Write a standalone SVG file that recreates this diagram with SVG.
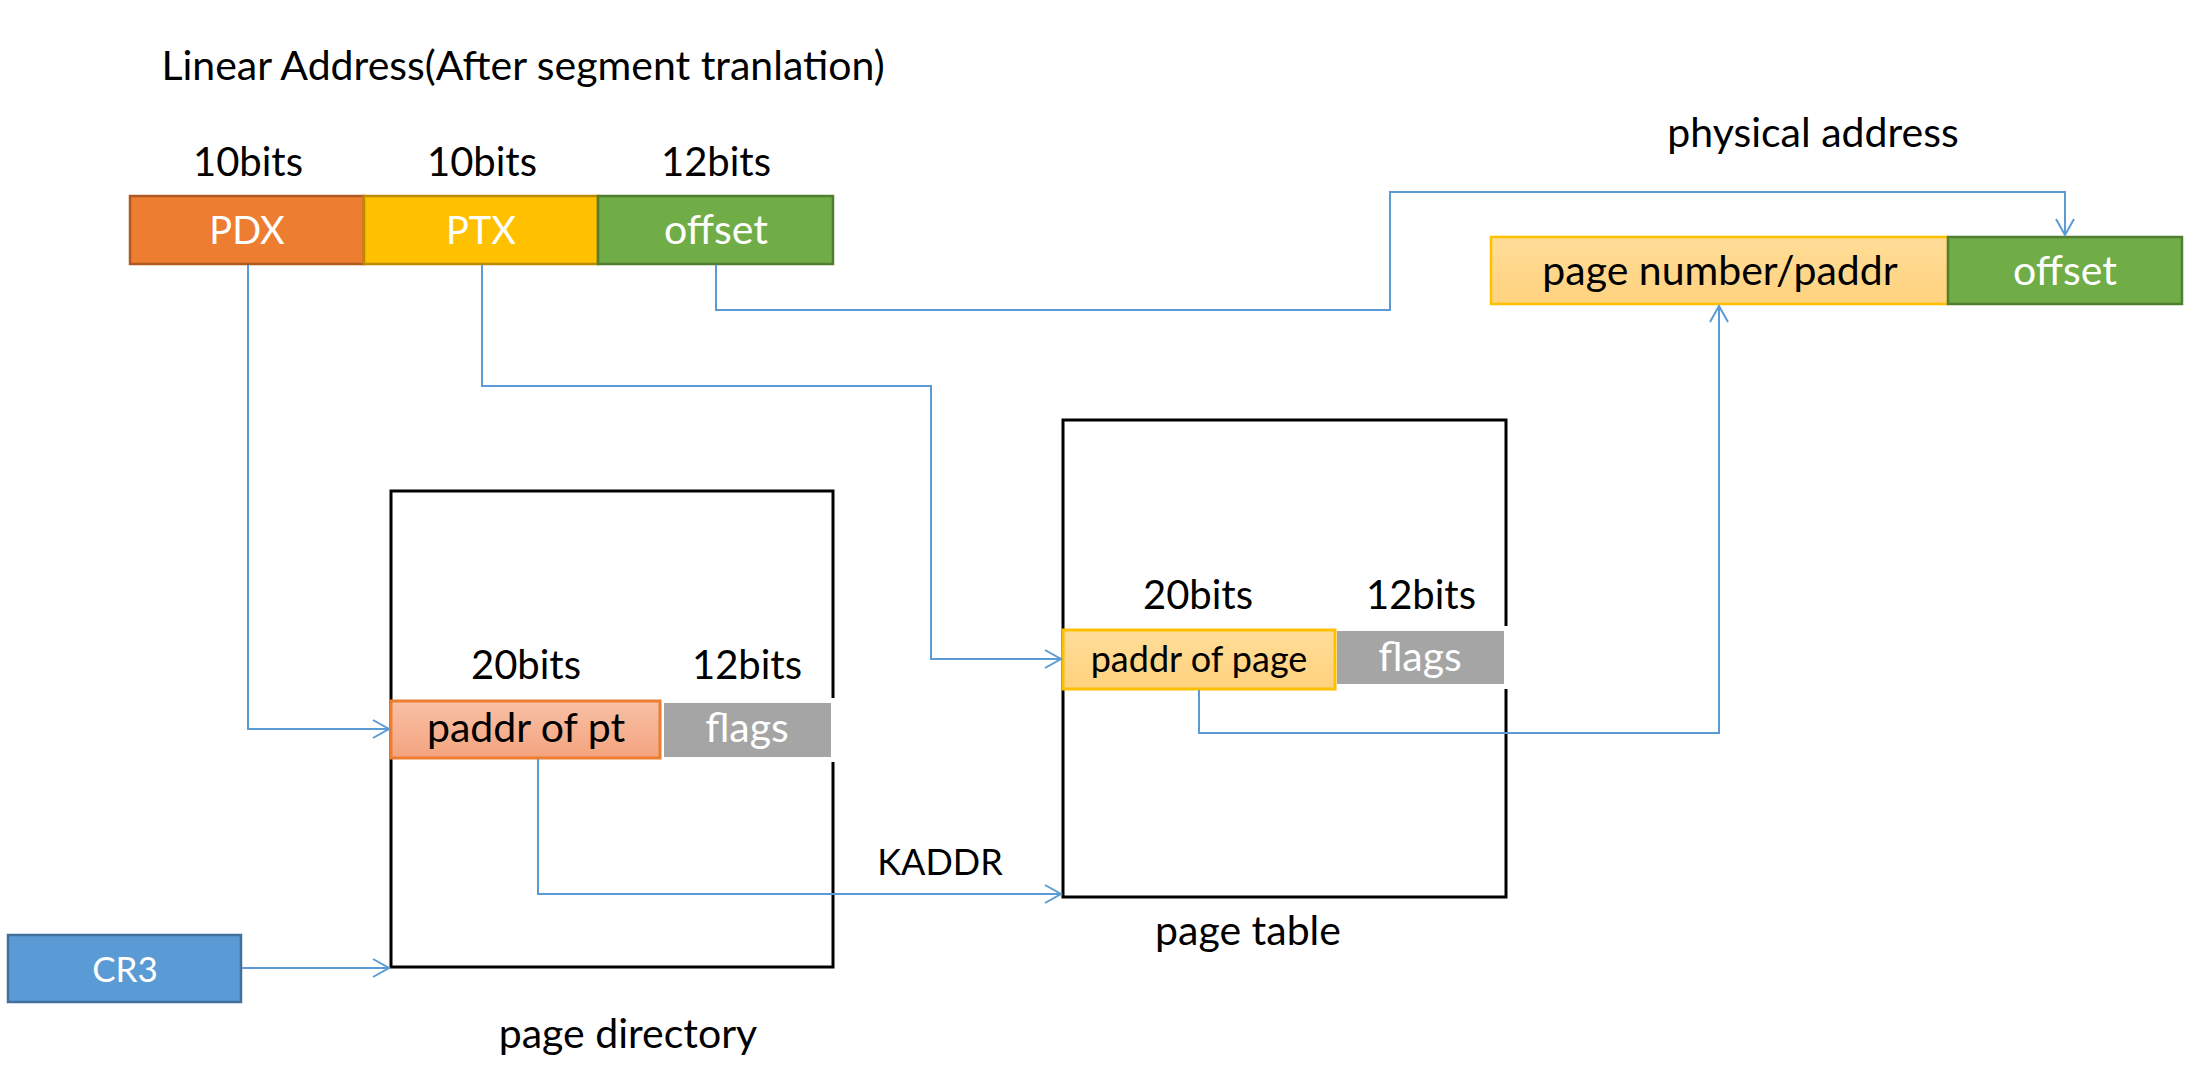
<svg xmlns="http://www.w3.org/2000/svg" width="2198" height="1074" viewBox="0 0 2198 1074">
<style>
text{font-family:Lato,"Open Sans","Liberation Sans",sans-serif;font-size:41px;text-anchor:middle;fill:#000}
.w{fill:#fff}
.b{font-size:40px}
.caps{font-size:38px}
.conn{fill:none;stroke:#5B9BD5;stroke-width:2}
.box{fill:none;stroke:#000;stroke-width:3}
</style>
<defs>
<marker id="arr" markerUnits="userSpaceOnUse" markerWidth="20" markerHeight="22" refX="17" refY="11" orient="auto">
<path d="M1,2 L17,11 L1,20" fill="none" stroke="#5B9BD5" stroke-width="2"/>
</marker>
<linearGradient id="gOr" x1="0" y1="0" x2="0" y2="1"><stop offset="0" stop-color="#F8C0A6"/><stop offset="1" stop-color="#F4A47E"/></linearGradient>
<linearGradient id="gYe" x1="0" y1="0" x2="0" y2="1"><stop offset="0" stop-color="#FFDD98"/><stop offset="1" stop-color="#FFD27E"/></linearGradient>
</defs>
<text id="title" x="523" y="80">Linear Address(After segment tranlation)</text>
<g id="linear">
<text class="b" x="248" y="176">10bits</text>
<text class="b" x="482" y="176">10bits</text>
<text class="b" x="716" y="176">12bits</text>
</g>
<g id="pdx"><rect x="130" y="196" width="234" height="68" fill="#ED7D31" stroke="#AE5A21" stroke-width="2.5"/><text class="w caps" x="247" y="244">PDX</text></g>
<g id="ptx"><rect x="364" y="196" width="234" height="68" fill="#FFC000" stroke="#BC8C00" stroke-width="2.5"/><text class="w caps" x="481" y="244">PTX</text></g>
<g id="offset1"><rect x="598" y="196" width="235" height="68" fill="#70AD47" stroke="#507E32" stroke-width="2.5"/><text class="w" x="716" y="244">offset</text></g>
<text id="phys-label" x="1813" y="147">physical address</text>
<g id="pagenum"><rect x="1491" y="237" width="457" height="67" fill="url(#gYe)" stroke="#FFC000" stroke-width="2.5"/><text x="1720" y="285">page number/paddr</text></g>
<g id="offset2"><rect x="1948" y="237" width="234" height="67" fill="#70AD47" stroke="#507E32" stroke-width="2.5"/><text class="w" x="2065" y="285">offset</text></g>
<g id="pagedir">
<rect class="box" x="391" y="491" width="442" height="476"/>
<text class="b" x="526" y="679">20bits</text>
<text class="b" x="747" y="679">12bits</text>
<rect x="664" y="703" width="167" height="54" fill="#A5A5A5" stroke="#fff" stroke-width="10"/>
<rect x="664" y="703" width="167" height="54" fill="#A5A5A5"/>
<text class="w" x="747" y="742">flags</text>
<rect x="391" y="701" width="269" height="57" fill="url(#gOr)" stroke="#ED7D31" stroke-width="3"/>
<text x="526" y="742">paddr of pt</text>
<text x="628" y="1048">page directory</text>
</g>
<g id="pagetable">
<rect class="box" x="1063" y="420" width="443" height="477"/>
<text class="b" x="1198" y="609">20bits</text>
<text class="b" x="1421" y="609">12bits</text>
<rect x="1337" y="631" width="167" height="53" fill="#A5A5A5" stroke="#fff" stroke-width="10"/>
<rect x="1337" y="631" width="167" height="53" fill="#A5A5A5"/>
<text class="w" x="1420" y="671">flags</text>
<rect x="1063" y="630" width="272" height="59" fill="url(#gYe)" stroke="#FFC000" stroke-width="3"/>
<text x="1199" y="672" style="font-size:36px">paddr of page</text>
<text x="1248" y="945">page table</text>
</g>
<g id="cr3"><rect x="8" y="935" width="233" height="67" fill="#5B9BD5" stroke="#41719C" stroke-width="2.5"/><text class="w" x="125" y="982" style="font-size:35px">CR3</text></g>
<text id="kaddr" x="940" y="875" style="font-size:36px">KADDR</text>
<g id="connectors">
<path class="conn" d="M248,265 V729 H389" marker-end="url(#arr)"/>
<path class="conn" d="M482,265 V386 H931 V659 H1061" marker-end="url(#arr)"/>
<path class="conn" d="M716,265 V310 H1390 V192 H2065 V235" marker-end="url(#arr)"/>
<path class="conn" d="M538,759 V894 H1061" marker-end="url(#arr)"/>
<path class="conn" d="M1199,690 V733 H1719 V306" marker-end="url(#arr)"/>
<path class="conn" d="M242,968 H389" marker-end="url(#arr)"/>
</g>
</svg>
